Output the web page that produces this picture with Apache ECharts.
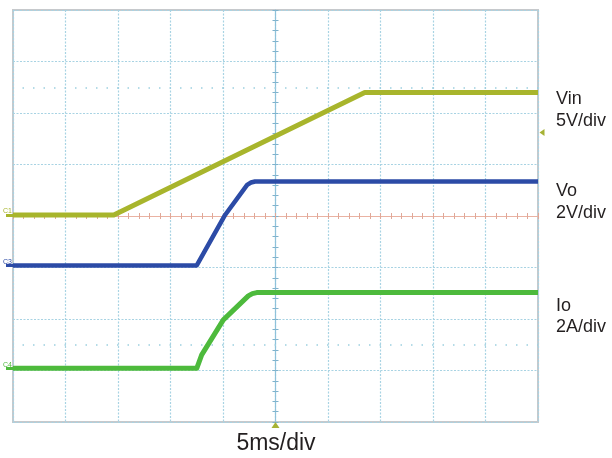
<!DOCTYPE html>
<html>
<head>
<meta charset="utf-8">
<script src="https://cdn.jsdelivr.net/npm/echarts@6/dist/echarts.min.js"></script>
<style>
html,body{margin:0;padding:0;background:#fff;}
#chart{width:612px;height:458px;}
</style>
</head>
<body>
<div id="chart"></div>
<script>
// Time axis (ms), 5 ms/div, trigger at 0
const timeMin = -25, timeMax = 25, timeStep = 5;
// Vin trace (V), 5 V/div
const vinTime  = [-25, -15.4, 8.5, 25];
const vinValue = [0, 0, 11.9, 11.9];
// Vo trace (V), 2 V/div
const voTime  = [-25, -7.5, -4.8, -2.7, -2.33, -1.95, 25];
const voValue = [0, 0, 1.96, 3.13, 3.22, 3.26, 3.26];
// Io trace (A), 2 A/div
const ioTime  = [-25, -7.5, -7.03, -4.97, -2.59, -2.2, -1.79, 25];
const ioValue = [0, 0, 0.52, 1.88, 2.81, 2.9, 2.94, 2.94];
// Trigger level (Vin)
const triggerLevel = [8];
// Channel labels
const channelNames = ['Vin', 'Vo', 'Io'];
const channelScales = ['5V/div', '2V/div', '2A/div'];
const channelTags = ['C1', 'C3', 'C4'];
const timeLabel = '5ms/div';

const pair = (t, v) => t.map((x, i) => [x, v[i]]);

const colors = { vin: '#a8b52c', vo: '#2c4ba6', io: '#4dba3c' };
const gridColor = '#a8d3e3';

function chanAxis(min, max, tag, color) {
  return {
    type: 'value', min: min, max: max, position: 'left',
    axisLine: { show: false, onZero: false },
    splitLine: { show: false },
    axisTick: { show: true, customValues: [0], length: 7, lineStyle: { color: color, width: 3 } },
    axisLabel: { show: true, customValues: [0], margin: 1, formatter: () => tag,
      fontSize: 7, color: color, verticalAlign: 'bottom', fontFamily: 'Liberation Sans' }
  };
}

const option = {
  animation: false,
  backgroundColor: '#ffffff',
  grid: { left: 13, top: 10, width: 525, height: 412, show: true,
    borderColor: '#c6c9cc', borderWidth: 2, containLabel: false, outerBoundsMode: 'none' },
  xAxis: [
    { type: 'value', min: timeMin, max: timeMax, interval: timeStep,
      axisLine: { show: false, onZero: false }, axisTick: { show: false }, axisLabel: { show: false },
      splitLine: { show: true, lineStyle: { color: gridColor, type: [2, 1.5], width: 1.2 } } },
    { type: 'value', min: timeMin, max: timeMax, interval: 1,
      axisLine: { show: true, onZero: true, onZeroAxisIndex: 0, lineStyle: { color: '#eab2a2', width: 1.2 } },
      axisTick: { show: true, inside: false, length: 3, lineStyle: { color: '#e0a898' } },
      axisLabel: { show: false }, splitLine: { show: false } },
    { type: 'value', min: timeMin, max: timeMax, interval: 1,
      axisLine: { show: false, onZero: true, onZeroAxisIndex: 0 },
      axisTick: { show: true, inside: true, length: 3, lineStyle: { color: '#e0a898' } },
      axisLabel: { show: false }, splitLine: { show: false } }
  ],
  yAxis: [
    { type: 'value', min: -4, max: 4, interval: 1,
      axisLine: { show: false, onZero: false }, axisTick: { show: false }, axisLabel: { show: false },
      splitLine: { show: true, lineStyle: { color: gridColor, type: [2, 1.5], width: 1.2 } } },
    chanAxis(-20.1, 19.9, channelTags[0], colors.vin),
    chanAxis(-6.08, 9.92, channelTags[1], colors.vo),
    chanAxis(-2.086, 13.914, channelTags[2], colors.io),
    { type: 'value', min: -4, max: 4, interval: 0.2,
      axisLine: { show: true, onZero: true, onZeroAxisIndex: 0, lineStyle: { color: '#8fc2da', width: 1.2 } },
      axisTick: { show: true, inside: false, length: 3, lineStyle: { color: '#7fb2cc' } },
      axisLabel: { show: false }, splitLine: { show: false } },
    { type: 'value', min: -4, max: 4, interval: 0.2,
      axisLine: { show: false, onZero: true, onZeroAxisIndex: 0 },
      axisTick: { show: true, inside: true, length: 3, lineStyle: { color: '#7fb2cc' } },
      axisLabel: { show: false }, splitLine: { show: false } }
  ],
  series: [
    { type: 'line', xAxisIndex: 0, yAxisIndex: 0, data: [], silent: true,
      markLine: { silent: true, symbol: 'none', label: { show: false },
        lineStyle: { color: '#9ccfe0', type: [1.5, 9], dashOffset: 1, width: 1.5 },
        data: [{ yAxis: 2.5 }, { yAxis: -2.5 }] } },
    { name: channelNames[0], type: 'line', xAxisIndex: 0, yAxisIndex: 1,
      data: pair(vinTime, vinValue), showSymbol: false, silent: true,
      lineStyle: { color: colors.vin, width: 5, join: 'round' },
      markPoint: { silent: true, label: { show: false }, itemStyle: { color: '#a6b234' },
        data: [
          { coord: [timeMax, triggerLevel[0]], symbol: 'triangle', symbolRotate: 90, symbolSize: [7, 5], symbolOffset: [4, 0] },
          { coord: [0, -20.1], symbol: 'triangle', symbolSize: [8, 6], symbolOffset: [0, 3] }
        ] } },
    { name: channelNames[1], type: 'line', xAxisIndex: 0, yAxisIndex: 2,
      data: pair(voTime, voValue), showSymbol: false, silent: true,
      lineStyle: { color: colors.vo, width: 4.5, join: 'round' } },
    { name: channelNames[2], type: 'line', xAxisIndex: 0, yAxisIndex: 3,
      data: pair(ioTime, ioValue), showSymbol: false, silent: true,
      lineStyle: { color: colors.io, width: 5, join: 'round' } }
  ],
  graphic: [
    { type: 'text', x: 556, y: 99.5, style: { text: channelNames[0], font: '18px "Liberation Sans", Arial', fill: '#231f20', verticalAlign: 'middle' } },
    { type: 'text', x: 556, y: 121.5, style: { text: channelScales[0], font: '18px "Liberation Sans", Arial', fill: '#231f20', verticalAlign: 'middle' } },
    { type: 'text', x: 556, y: 191.5, style: { text: channelNames[1], font: '18px "Liberation Sans", Arial', fill: '#231f20', verticalAlign: 'middle' } },
    { type: 'text', x: 556, y: 213.5, style: { text: channelScales[1], font: '18px "Liberation Sans", Arial', fill: '#231f20', verticalAlign: 'middle' } },
    { type: 'text', x: 556, y: 306, style: { text: channelNames[2], font: '18px "Liberation Sans", Arial', fill: '#231f20', verticalAlign: 'middle' } },
    { type: 'text', x: 556, y: 327.5, style: { text: channelScales[2], font: '18px "Liberation Sans", Arial', fill: '#231f20', verticalAlign: 'middle' } },
    { type: 'text', x: 276, y: 444, style: { text: timeLabel, font: '23px "Liberation Sans", Arial', fill: '#231f20', align: 'center', verticalAlign: 'middle' } }
  ]
};

const chart = echarts.init(document.getElementById('chart'), null, { renderer: 'canvas' });
chart.setOption(option);
</script>
</body>
</html>
